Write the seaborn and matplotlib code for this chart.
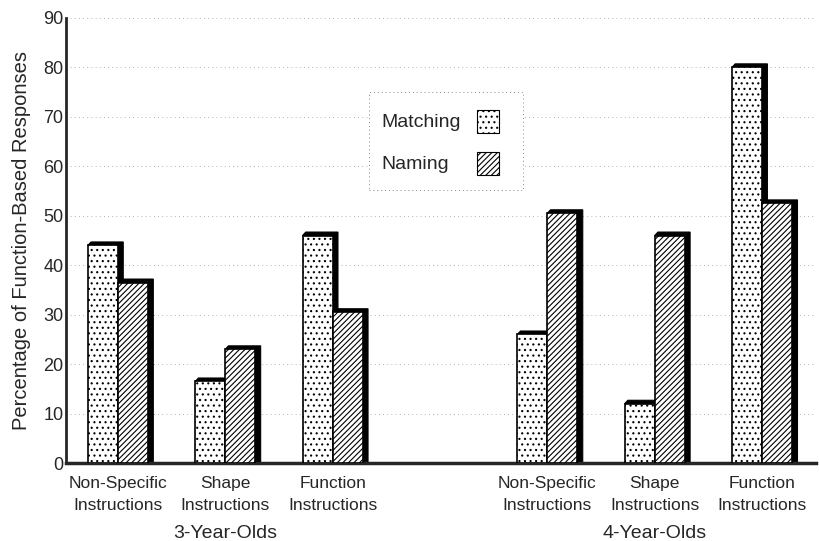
import numpy as np
import pandas as pd
import matplotlib
matplotlib.use("Agg")
import matplotlib.pyplot as plt
import matplotlib.patches as patches
import matplotlib.transforms as mtransforms
import seaborn as sns

# 데이터
slots = ["ns3", "shape3", "func3", "gap", "ns4", "shape4", "func4"]
slot_labels = ["Non-Specific\nInstructions", "Shape\nInstructions", "Function\nInstructions", "",
               "Non-Specific\nInstructions", "Shape\nInstructions", "Function\nInstructions"]
bar_slots = ["ns3", "shape3", "func3", "ns4", "shape4", "func4"]
matching = [44, 16.5, 46, 26, 12, 80]
naming = [36.5, 23, 30.5, 50.5, 46, 52.5]
groups = ["3-Year-Olds", "4-Year-Olds"]
group_pos = [1, 5]
conditions = ["Matching", "Naming"]

df = pd.DataFrame({
    "slot": bar_slots * 2,
    "cond": ["Matching"] * len(bar_slots) + ["Naming"] * len(bar_slots),
    "pct": matching + naming,
})

sns.set_style("white")
plt.rcParams['font.family'] = ['Liberation Sans', 'DejaVu Sans']
plt.rcParams['hatch.linewidth'] = 0.8

fig = plt.figure(figsize=(8.19, 5.41), dpi=100)
ax = fig.add_axes([0.081, 0.144, 0.915, 0.823])

sns.barplot(data=df, x="slot", y="pct", hue="cond", order=slots, hue_order=conditions,
            palette=["white", "white"], edgecolor="black", linewidth=1.2,
            width=0.56, gap=0, legend=False, ax=ax)

hatches = {"Matching": "...", "Naming": "//////"}
for cont, cond in zip(ax.containers, conditions):
    for bar in cont:
        bar.set_hatch(hatches[cond])
        bar.set_zorder(3)

# 3D 그림자
dx, dy = 0.05, 0.7
for cont in ax.containers:
    for bar in cont:
        x0 = bar.get_x()
        x1 = x0 + bar.get_width()
        h = bar.get_height()
        poly = patches.Polygon([(x1, 0), (x1, h), (x0, h), (x0 + dx * 0.6, h + dy),
                                (x1 + dx, h + dy), (x1 + dx, 0)],
                               closed=True, facecolor="black", edgecolor="black",
                               lw=0.8, zorder=2.5)
        ax.add_patch(poly)

ax.set_ylim(0, 90)
ax.set_xlim(-0.48, 6.5)
ax.set_yticks(np.arange(0, 91, 10))
ax.yaxis.grid(True, linestyle=(0, (1, 4)), color="#999999", linewidth=0.6)
ax.set_axisbelow(True)
ax.tick_params(axis="y", direction="in", length=3, labelsize=13, pad=2, width=1)
ax.tick_params(axis="x", length=0, labelsize=12.5, pad=9)
ax.set_xticks(range(len(slots)))
ax.set_xticklabels(slot_labels, linespacing=1.6)
ax.set_xlabel("")
ax.set_ylabel("Percentage of Function-Based Responses", fontsize=14.5, labelpad=9)

for s in ["top", "right"]:
    ax.spines[s].set_visible(False)
ax.spines["left"].set_linewidth(2)
ax.spines["bottom"].set_linewidth(2.5)

trans = mtransforms.blended_transform_factory(ax.transData, ax.transAxes)
for g, p in zip(groups, group_pos):
    ax.text(p, -0.158, g, transform=trans, ha="center", va="center", fontsize=14)

# 범례 (텍스트 왼쪽 정렬, 견본 오른쪽)
ax.add_patch(patches.Rectangle((0.404, 0.613), 0.206, 0.221, transform=ax.transAxes,
                               facecolor="white", edgecolor="#888888", lw=0.7,
                               linestyle=(0, (1, 3)), zorder=4))
leg_y = [0.764, 0.670]
for c, yy in zip(conditions, leg_y):
    ax.text(0.420, yy, c, transform=ax.transAxes, ha="left", va="center",
            fontsize=14, zorder=5)
    ax.add_patch(patches.Rectangle((0.548, yy - 0.022), 0.029, 0.05, transform=ax.transAxes,
                                   facecolor="white", edgecolor="black", lw=0.8,
                                   hatch=hatches[c], zorder=5))

fig.savefig("out.png", dpi=100)
